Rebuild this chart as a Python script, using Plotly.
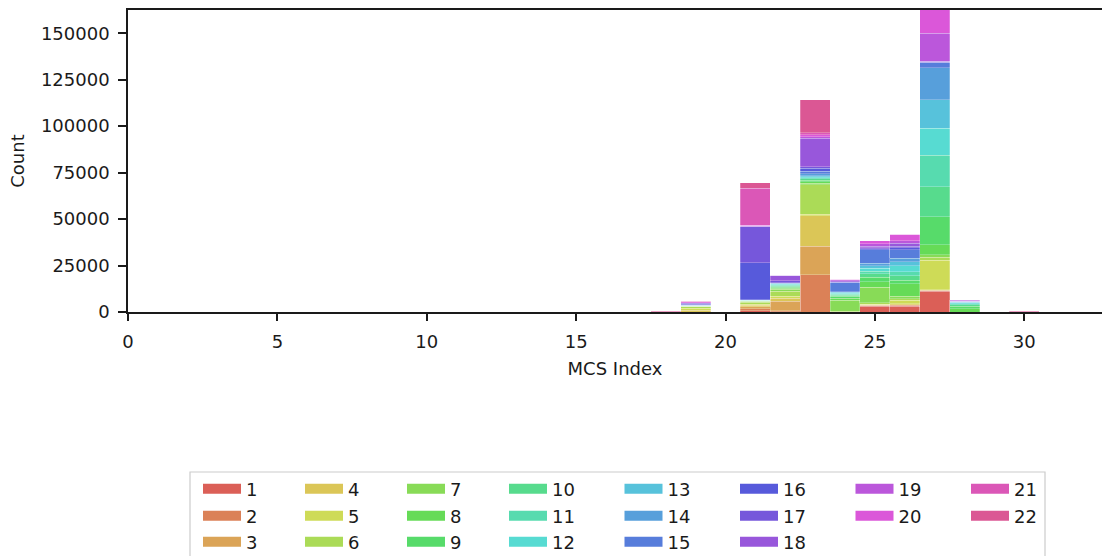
import colorsys
import plotly.graph_objects as go

# ---------------- data ----------------
mcs_index = [18, 19, 21, 22, 23, 24, 25, 26, 27, 28, 30]
categories = [str(i) for i in range(1, 23)]

# counts per category (1..22) for each MCS index bin
counts_mcs18 = [0, 0, 0, 0, 0, 0, 0, 0, 0, 0, 0, 0, 0, 0, 0, 0, 0, 0, 0, 0, 150, 250]
counts_mcs19 = [0, 0, 0, 970, 1075, 800, 375, 0, 200, 0, 0, 0, 0, 200, 0, 540, 540, 270, 0, 430, 375, 0]
counts_mcs21 = [700, 1075, 1075, 800, 650, 970, 540, 50, 200, 50, 50, 50, 50, 200, 50, 20100, 19140, 375, 300, 300, 19900, 2850]
counts_mcs22 = [200, 430, 5270, 1450, 1240, 2530, 1075, 540, 540, 540, 540, 540, 270, 270, 200, 200, 1000, 3000, 0, 0, 200, 0]
counts_mcs23 = [0, 20050, 15200, 16670, 650, 15860, 800, 800, 800, 800, 540, 540, 540, 1075, 1340, 1610, 970, 15270, 700, 1075, 1240, 17580]
counts_mcs24 = [0, 0, 0, 0, 0, 430, 6000, 1075, 1075, 540, 540, 540, 540, 270, 4800, 200, 200, 540, 540, 375, 0, 0]
counts_mcs25 = [3010, 375, 270, 270, 375, 700, 8225, 3065, 2420, 1880, 1340, 1610, 1340, 1450, 7150, 540, 540, 700, 1450, 1610, 0, 0]
counts_mcs26 = [3120, 540, 270, 540, 1880, 800, 1340, 6720, 1880, 2420, 2150, 3225, 2150, 1880, 4570, 1075, 800, 1610, 1340, 3600, 0, 0]
counts_mcs27 = [11070, 300, 300, 300, 15980, 1500, 1300, 5400, 15050, 16300, 16770, 14620, 15210, 17360, 2530, 300, 300, 300, 15000, 16000, 1500, 1000]
counts_mcs28 = [0, 0, 0, 0, 0, 0, 0, 1770, 1340, 800, 540, 540, 270, 270, 0, 0, 270, 0, 540, 270, 0, 0]
counts_mcs30 = [0, 0, 0, 0, 0, 0, 0, 0, 0, 0, 0, 0, 0, 0, 0, 0, 0, 0, 0, 0, 100, 250]

y_ticks = [0, 25000, 50000, 75000, 100000, 125000, 150000]
x_ticks = [0, 5, 10, 15, 20, 25, 30]

legend_rows = [
    ["1", "4", "7", "10", "13", "16", "19", "21"],
    ["2", "5", "8", "11", "14", "17", "20", "22"],
    ["3", "6", "9", "12", "15", "18"],
]

# ---------------- styling ----------------
bins = [counts_mcs18, counts_mcs19, counts_mcs21, counts_mcs22, counts_mcs23,
        counts_mcs24, counts_mcs25, counts_mcs26, counts_mcs27, counts_mcs28,
        counts_mcs30]

N_HUES = 23


def hls_color(i):
    h = (i / N_HUES + 0.01) % 1
    r, g, b = colorsys.hls_to_rgb(h, 0.6, 0.65)
    return "rgb(%d,%d,%d)" % (round(r * 255), round(g * 255), round(b * 255))


colors = {c: hls_color(i) for i, c in enumerate(categories)}
FONT = "DejaVu Sans"
TXT = "#1a1a1a"
FS = 18

fig = go.Figure()
for k, cat in enumerate(categories):
    fig.add_trace(go.Bar(
        x=mcs_index,
        y=[b[k] for b in bins],
        width=1,
        name=cat,
        marker=dict(color=colors[cat], line=dict(color="rgba(255,255,255,0.35)", width=0.7)),
        showlegend=False,
        hoverinfo="x+y+name",
    ))

# legend entries (patch-like wide swatches), arranged in 3 rows like the reference
legend_ids = ["legend", "legend2", "legend3"]
for r, row in enumerate(legend_rows):
    for cat in row:
        fig.add_trace(go.Scatter(
            x=[None], y=[None], mode="lines", name=cat,
            line=dict(color=colors[cat], width=13),
            legend=legend_ids[r],
            legendwidth=49 if len(cat) == 1 else 62.5,
            showlegend=True, hoverinfo="skip",
        ))

T, B = 10, 244
PH = 556 - T - B
def py(p):
    return (PH + T - p) / PH
L = 128
PW = 1102 - L
def px(p):
    return (p - L) / PW

row_centers = [489, 516, 542]
leg_common = dict(orientation="h", xanchor="left", yanchor="middle",
                  bgcolor="rgba(0,0,0,0)", borderwidth=0, itemwidth=38,
                  font=dict(family=FONT, size=FS, color=TXT), traceorder="normal")
layout_legends = {}
for r, lid in enumerate(legend_ids):
    layout_legends[lid] = dict(x=px(198), y=py(row_centers[r]), **leg_common)

fig.update_layout(
    width=1102, height=556,
    margin=dict(l=L, r=0, t=T, b=B, autoexpand=False),
    barmode="stack",
    plot_bgcolor="white", paper_bgcolor="white",
    font=dict(family=FONT, size=FS, color=TXT),
    **layout_legends,
    shapes=[dict(type="rect", xref="paper", yref="paper",
                 x0=px(190), x1=px(1045), y0=py(472), y1=py(575),
                 line=dict(color="#cccccc", width=1.2), fillcolor="rgba(0,0,0,0)", layer="below")],
)
fig.update_xaxes(
    range=[0, 32.6], tickmode="array", tickvals=x_ticks,
    showline=True, linecolor="#1a1a1a", linewidth=1.5, mirror=True,
    ticks="outside", ticklen=7, tickwidth=1.5, tickcolor="#1a1a1a",
    ticklabelstandoff=6, showgrid=False, zeroline=False,
    title=dict(text="MCS Index", standoff=11, font=dict(size=FS)),
    tickfont=dict(size=FS), automargin=False,
)
fig.update_yaxes(
    range=[0, 162500], tickmode="array", tickvals=y_ticks, tickformat="d",
    showline=True, linecolor="#1a1a1a", linewidth=1.5, mirror=False,
    ticks="outside", ticklen=8, tickwidth=1.5, tickcolor="#1a1a1a",
    ticklabelstandoff=5, showgrid=False, zeroline=False,
    title=dict(text="Count", standoff=12, font=dict(size=FS)),
    tickfont=dict(size=FS), automargin=False,
)

fig.write_html("out.html")
